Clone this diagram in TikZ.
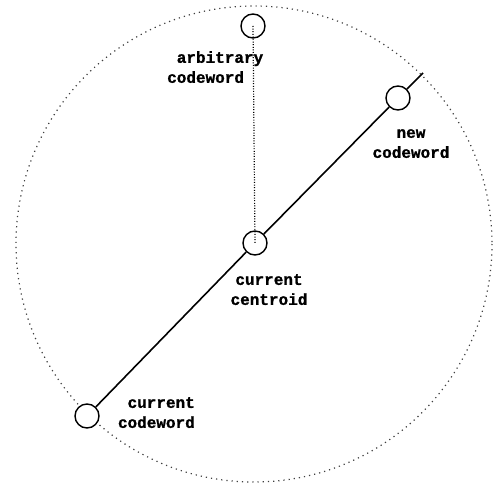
\documentclass[tikz,border=0pt]{standalone}
\usepackage{fontspec}
\setmonofont[BoldFeatures={FakeBold=1.2}]{Liberation Mono}
\begin{document}
\begin{tikzpicture}[x=1pt,y=-1pt,
  lbl/.style={font=\ttfamily\bfseries\fontsize{16}{20}\selectfont, inner sep=0pt},
  pt/.style={circle, draw, line width=1.4pt, minimum size=24pt, inner sep=0pt, fill=white},
  bound/.style={line width=1.2pt, dash pattern=on 1.2pt off 4pt, black!75},
  seg/.style={line width=1.6pt},
  vdot/.style={line width=1.2pt, dash pattern=on 1pt off 1.6pt}]
\useasboundingbox (0,0) rectangle (494,486);
\coordinate (c) at (254,244);
\draw[bound] (c) circle[radius=238];
\coordinate (lineend) at (423,73);
\node[pt] (cur) at (87,416) {};
\node[pt] (cen) at (255,243) {};
\node[pt] (new) at (398,98) {};
\node[pt] (arb) at (253,26) {};
\draw[seg] (cur) -- (cen);
\draw[seg] (cen) -- (new);
\draw[seg] (new) -- (lineend);
\draw[vdot] (arb.center) -- (cen.center);
\node[lbl, align=left, anchor=north west] (arbl) at (167,51) {\hspace{0.6em}arbitrary\\codeword};
\node[lbl, align=center, anchor=north] (newl) at (411,129) {new\\codeword};
\node[lbl, align=center, anchor=north] (cenl) at (269,274) {current\\centroid};
\node[lbl, align=right, anchor=north east] (curl) at (195,397) {current\\codeword};
\end{tikzpicture}
\end{document}
